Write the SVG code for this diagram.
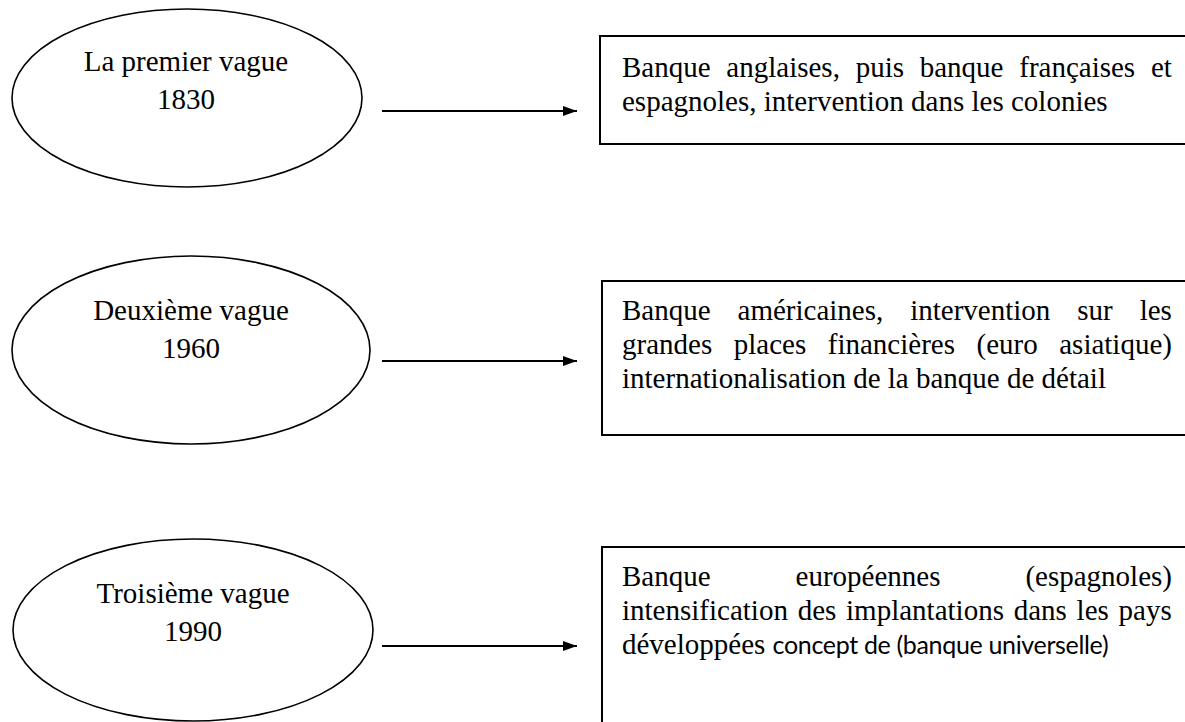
<svg xmlns="http://www.w3.org/2000/svg" width="1185" height="722" viewBox="0 0 1185 722">
<defs>
<style>
.ell{fill:#fff;stroke:#000;stroke-width:1.6}
.box{fill:#fff;stroke:#000;stroke-width:2}
.t{font-family:"Liberation Serif","Times New Roman",serif;font-size:29px;fill:#000}
.e{font-family:"Liberation Serif","Times New Roman",serif;font-size:29px;fill:#000;text-anchor:middle}
.s{font-family:Lato,"Open Sans",sans-serif;font-size:25px}
.c{stroke:#000;stroke-width:2;fill:none}
</style>
<marker id="ah" viewBox="0 0 14 10" refX="14" refY="5" markerWidth="14" markerHeight="10" markerUnits="userSpaceOnUse" orient="auto">
<path d="M0,0 L14,5 L0,10 z" fill="#000"/>
</marker>
</defs>
<rect width="1185" height="722" fill="#fff"/>
<g id="connectors">
<line class="c" x1="382" y1="111" x2="577" y2="111" marker-end="url(#ah)"/>
<line class="c" x1="382" y1="361" x2="577" y2="361" marker-end="url(#ah)"/>
<line class="c" x1="382" y1="646" x2="577" y2="646" marker-end="url(#ah)"/>
</g>
<g id="wave1">
<ellipse class="ell" cx="187" cy="98" rx="175" ry="89"/>
<text class="e" x="186" y="71">La premier vague</text>
<text class="e" x="186" y="109">1830</text>
</g>
<g id="box1">
<rect class="box" x="600" y="36" width="600" height="108"/>
<text class="t" x="622" y="77" word-spacing="8.5">Banque anglaises, puis banque françaises et</text>
<text class="t" x="622" y="111">espagnoles, intervention dans les colonies</text>
</g>
<g id="wave2">
<ellipse class="ell" cx="191" cy="350" rx="179" ry="94"/>
<text class="e" x="191" y="320">Deuxième vague</text>
<text class="e" x="191" y="358">1960</text>
</g>
<g id="box2">
<rect class="box" x="602" y="281" width="600" height="154"/>
<text class="t" x="622" y="320" word-spacing="19.7">Banque américaines, intervention sur les</text>
<text class="t" x="622" y="354" word-spacing="14.3">grandes places financières (euro asiatique)</text>
<text class="t" x="622" y="388">internationalisation de la banque de détail</text>
</g>
<g id="wave3">
<ellipse class="ell" cx="193" cy="630" rx="180" ry="91"/>
<text class="e" x="193" y="603">Troisième vague</text>
<text class="e" x="193" y="641">1990</text>
</g>
<g id="box3">
<rect class="box" x="602" y="547" width="600" height="200"/>
<text class="t" x="622" y="586" word-spacing="77.7">Banque européennes (espagnoles)</text>
<text class="t" x="622" y="620" word-spacing="2.5">intensification des implantations dans les pays</text>
<text class="t" x="622" y="654">développées <tspan class="s" textLength="336" lengthAdjust="spacing">concept de (banque universelle)</tspan></text>
</g>
</svg>
